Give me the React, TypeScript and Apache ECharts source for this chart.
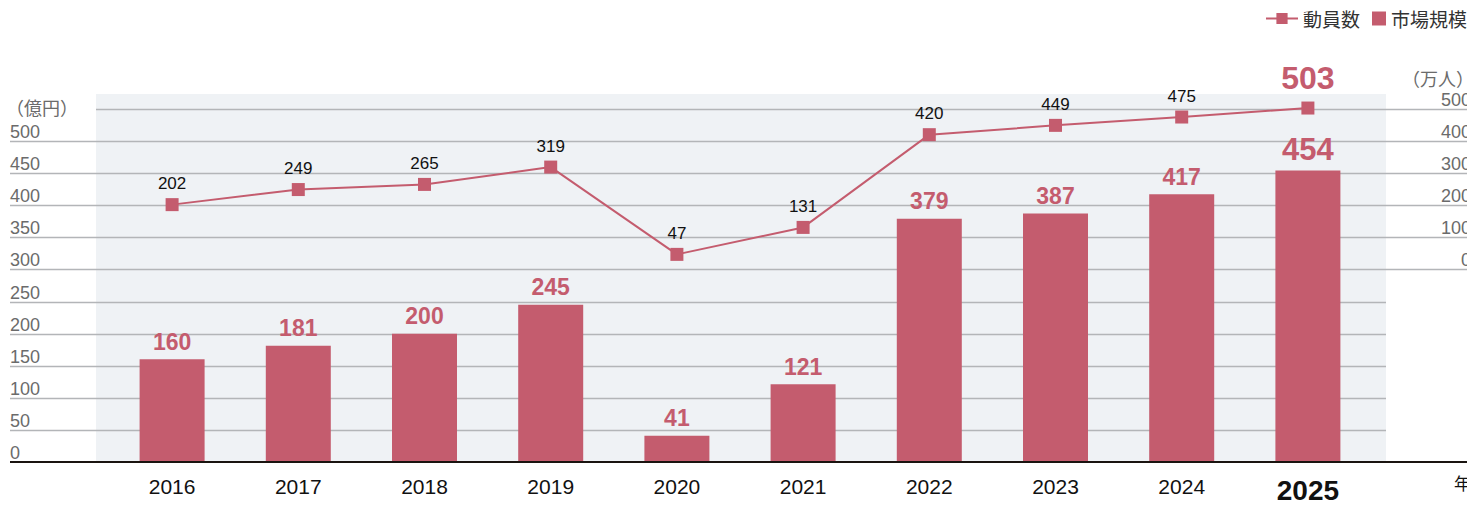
import React, { useEffect, useRef } from "react";
import * as echarts from "echarts";

const years = ["2016", "2017", "2018", "2019", "2020", "2021", "2022", "2023", "2024", "2025"];
const marketSize = [160, 181, 200, 245, 41, 121, 379, 387, 417, 454];
const attendance = [202, 249, 265, 319, 47, 131, 420, 449, 475, 503];
const leftTicks = [0, 50, 100, 150, 200, 250, 300, 350, 400, 450, 500, 550];
const rightTicks = [0, 100, 200, 300, 400, 500];

const PINK = "#c45c6e";
const BG = "#eff2f5";
const GRID = "#b3b5b8";
const SANS = '"Liberation Sans", Arial, sans-serif';
const JP = '"Noto Sans CJK JP", sans-serif';

export default function App() {
  const ref = useRef<HTMLDivElement>(null);
  useEffect(() => {
    if (!ref.current) return;
    const chart = echarts.init(ref.current, null, { renderer: "svg" });
    const last = years.length - 1;
    const option: any = {
      animation: false,
      grid: { left: 109, right: 104, top: 109, bottom: 46 },
      legend: [
        {
          data: [{ name: "動員数" }],
          right: 110,
          top: 4,
          itemWidth: 32,
          itemHeight: 14,
          textStyle: { fontSize: 19, color: "#333", fontFamily: JP },
        },
        {
          data: [{ name: "市場規模", icon: "rect" }],
          right: 3,
          top: 4,
          itemWidth: 14,
          itemHeight: 14,
          textStyle: { fontSize: 19, color: "#333", fontFamily: JP },
        },
      ],
      xAxis: {
        type: "category",
        data: years,
        boundaryGap: true,
        axisLine: { show: false },
        axisTick: { show: false },
        axisLabel: {
          margin: 14,
          fontSize: 21,
          color: "#111",
          fontFamily: SANS,
          formatter: (v: string) => (v === years[last] ? `{b|${v}}` : v),
          rich: { b: { fontSize: 28, fontWeight: "bold", color: "#111", fontFamily: SANS } },
        },
      },
      yAxis: [
        {
          type: "value",
          min: 0,
          max: 550,
          interval: 50,
          splitLine: { show: false },
          axisLine: { show: false },
          axisTick: { show: false },
          axisLabel: {
            align: "left",
            verticalAlign: "bottom",
            margin: 99,
            fontSize: 18,
            color: "#6b6b6b",
            fontFamily: SANS,
            formatter: (v: number) => (v > 500 ? "" : String(v)),
          },
        },
        {
          type: "value",
          min: -600,
          max: 500,
          interval: 100,
          position: "right",
          splitLine: { show: false },
          axisLine: { show: false },
          axisTick: { show: false },
          axisLabel: {
            align: "right",
            verticalAlign: "bottom",
            margin: 100,
            fontSize: 18,
            color: "#6b6b6b",
            fontFamily: SANS,
            formatter: (v: number) => (v < 0 ? "" : String(v)),
          },
        },
      ],
      series: [
        {
          name: "市場規模",
          type: "bar",
          yAxisIndex: 0,
          barWidth: 65,
          itemStyle: { color: PINK },
          z: 3,
          data: marketSize.map((v, i) =>
            i === last ? { value: v, label: { fontSize: 31 } } : v
          ),
          label: {
            show: true,
            position: "top",
            distance: 6,
            color: PINK,
            fontWeight: "bold",
            fontSize: 23,
            fontFamily: SANS,
          },
        },
        {
          name: "動員数",
          type: "line",
          yAxisIndex: 1,
          clip: false,
          symbol: "rect",
          symbolSize: 13,
          lineStyle: { color: PINK, width: 2 },
          itemStyle: { color: PINK },
          z: 4,
          data: attendance.map((v, i) =>
            i === last
              ? { value: v, label: { fontSize: 32, fontWeight: "bold", color: PINK, distance: 8 } }
              : v
          ),
          label: {
            show: true,
            position: "top",
            distance: 6,
            color: "#111",
            fontSize: 17,
            fontFamily: SANS,
          },
        },
      ],
    };
    chart.setOption(option);

    const yL = (v: number) => chart.convertToPixel({ yAxisIndex: 0 }, v) as number;
    const yR = (v: number) => chart.convertToPixel({ yAxisIndex: 1 }, v) as number;
    const gridLeft = 109;
    const gridRight = 1475 - 104;
    const bgLeft = gridLeft - 13;
    const bgRight = gridRight + 15;
    const yTop = yL(leftTicks[leftTicks.length - 1]);
    const yBottom = yL(0);
    const rightZero = yR(rightTicks[0]);

    const elements: any[] = [
      {
        type: "rect",
        z: 0,
        shape: { x: bgLeft, y: yTop - 15, width: bgRight - bgLeft, height: yBottom - yTop + 15 },
        style: { fill: BG },
      },
    ];
    leftTicks.forEach((v) => {
      if (v === 0) return;
      const y = Math.round(yL(v)) + 0.5;
      const isTop = v === leftTicks[leftTicks.length - 1];
      const x1 = isTop ? bgLeft : 10;
      const x2 = y <= rightZero + 1 ? 1472 : bgRight;
      elements.push({
        type: "line",
        z: 1,
        shape: { x1, y1: y, x2, y2: y },
        style: { stroke: GRID, lineWidth: 1.3 },
      });
    });
    elements.push({
      type: "line",
      z: 5,
      shape: { x1: 10, y1: yBottom, x2: 1472, y2: yBottom },
      style: { stroke: "#1a1410", lineWidth: 2 },
    });
    elements.push({
      type: "text",
      z: 5,
      x: 6,
      y: yTop - 2,
      style: { text: "（億円）", fontSize: 18, fill: "#6b6b6b", fontFamily: JP, verticalAlign: "middle" },
    });
    elements.push({
      type: "text",
      z: 5,
      x: 1474,
      y: yTop - 31,
      style: { text: "（万人）", fontSize: 18, fill: "#6b6b6b", fontFamily: JP, align: "right", verticalAlign: "middle" },
    });
    elements.push({
      type: "text",
      z: 5,
      x: 1471,
      y: yBottom + 20,
      style: { text: "年", fontSize: 17, fill: "#111", fontFamily: JP, align: "right", verticalAlign: "middle" },
    });
    chart.setOption({ graphic: { elements } });

    return () => chart.dispose();
  }, []);
  return <div ref={ref} style={{ width: 1475, height: 508, margin: -8 }} />;
}
